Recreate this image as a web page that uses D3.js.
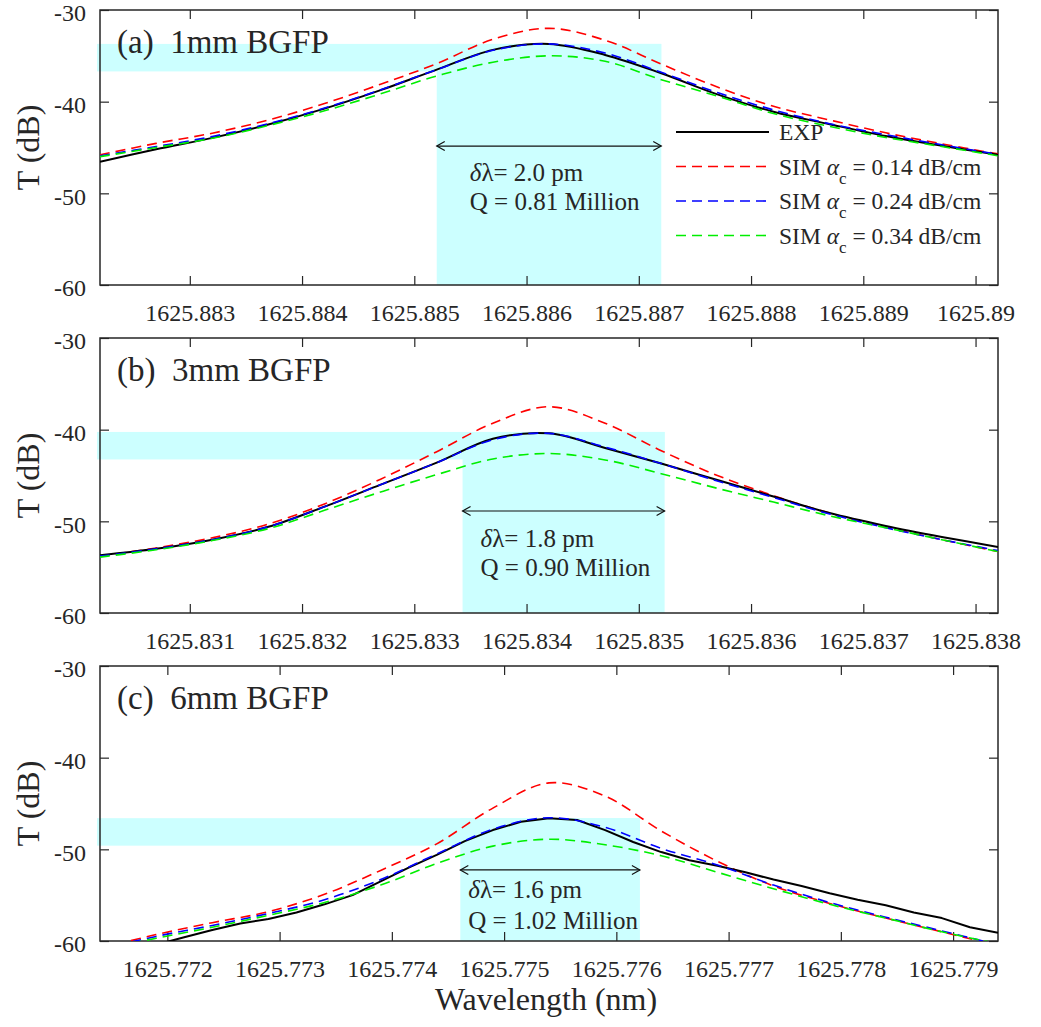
<!DOCTYPE html>
<html>
<head>
<meta charset="utf-8">
<script src="https://cdn.jsdelivr.net/npm/d3@7"></script>
<style>
  html, body { margin: 0; padding: 0; background: #ffffff; }
  svg { display: block; }
  text { font-family: "Liberation Serif", "Times New Roman", serif; fill: #262626; }
</style>
</head>
<body>
<svg id="chart" width="1041" height="1027"></svg>
<script>
// ---------- data ----------
// Panel (a): 1 mm BGFP
const lambdaA = [1625.8822, 1625.8827, 1625.8832, 1625.8837, 1625.8842, 1625.8847, 1625.8852, 1625.8857,
                 1625.8862, 1625.8867, 1625.8872, 1625.8877, 1625.8882, 1625.8887, 1625.8892, 1625.8897, 1625.8902];
const expA    = [-46.55, -45.2, -43.95, -42.5, -40.76, -38.74, -36.5, -34.35, -33.7, -34.9, -36.9, -39.2, -41.1, -42.46, -43.75, -44.8, -45.8];
const simA014 = [-45.8, -44.55, -43.44, -42.0, -40.2, -38.1, -35.85, -33.2, -32.0, -33.3, -35.9, -38.4, -40.5, -42.0, -43.4, -44.6, -45.7];
const simA024 = [-45.9, -44.9, -43.8, -42.4, -40.7, -38.7, -36.5, -34.4, -33.7, -34.7, -36.8, -39.0, -40.9, -42.4, -43.6, -44.7, -45.75];
const simA034 = [-46.0, -45.0, -44.0, -42.6, -41.0, -39.15, -37.2, -35.7, -35.0, -35.6, -37.6, -39.4, -41.3, -42.7, -43.9, -44.9, -45.9];

// Panel (b): 3 mm BGFP
const lambdaB = [1625.8302, 1625.8307, 1625.8312, 1625.8317, 1625.8322, 1625.8327, 1625.8332, 1625.8337,
                 1625.8342, 1625.8347, 1625.8352, 1625.8357, 1625.8362, 1625.8367, 1625.8372, 1625.8377, 1625.8382];
const expB    = [-53.7, -53.0, -52.0, -50.6, -48.4, -46.0, -43.6, -41.0, -40.4, -42.0, -43.7, -45.5, -47.3, -49.1, -50.5, -51.7, -52.8];
const simB014 = [-53.8, -52.9, -51.8, -50.3, -48.1, -45.4, -42.4, -39.3, -37.5, -39.3, -42.3, -45.0, -47.2, -49.1, -50.6, -52.0, -53.3];
const simB024 = [-53.8, -53.0, -52.0, -50.6, -48.4, -46.0, -43.6, -41.1, -40.4, -41.9, -43.7, -45.6, -47.4, -49.2, -50.7, -52.0, -53.2];
const simB034 = [-53.9, -53.1, -52.1, -50.8, -48.8, -46.8, -44.9, -43.2, -42.6, -43.3, -44.8, -46.4, -47.9, -49.4, -50.7, -52.0, -53.3];

// Panel (c): 6 mm BGFP (measured trace sampled more finely)
const lambdaCexp = [1625.7714, 1625.77165, 1625.7719, 1625.77215, 1625.7724, 1625.77265, 1625.7729, 1625.77315,
                    1625.7734, 1625.77365, 1625.7739, 1625.77415, 1625.7744, 1625.77465, 1625.7749, 1625.77515,
                    1625.7754, 1625.77565, 1625.7759, 1625.77615, 1625.7764, 1625.77665, 1625.7769, 1625.77715,
                    1625.7774, 1625.77765, 1625.7779, 1625.77815, 1625.7784, 1625.77865, 1625.7789, 1625.77915, 1625.7794];
const expC    = [-61.6, -61.0, -60.4, -59.6, -58.8, -58.1, -57.6, -56.9, -56.0, -55.0, -53.5, -52.0, -50.6, -49.1, -47.9, -47.0,
                 -46.6, -46.8, -47.9, -49.2, -50.3, -51.2, -51.8, -52.5, -53.3, -54.0, -54.8, -55.5, -56.1, -56.9, -57.5, -58.5, -59.1];
const lambdaC = [1625.7714, 1625.7719, 1625.7724, 1625.7729, 1625.7734, 1625.7739, 1625.7744, 1625.7749,
                 1625.7754, 1625.7759, 1625.7764, 1625.7769, 1625.7774, 1625.7779, 1625.7784, 1625.7789, 1625.7794];
const simC014 = [-60.8, -59.3, -58.0, -56.8, -54.9, -52.3, -49.4, -45.5, -42.75, -44.2, -48.0, -51.3, -54.0, -55.9, -57.5, -59.0, -60.5];
const simC024 = [-60.9, -59.5, -58.3, -57.0, -55.5, -53.3, -50.5, -47.8, -46.55, -47.6, -49.9, -51.7, -53.9, -55.8, -57.4, -58.9, -60.4];
const simC034 = [-61.0, -59.7, -58.5, -57.2, -55.8, -53.9, -51.55, -49.65, -48.9, -49.5, -50.7, -52.5, -54.3, -56.0, -57.5, -59.0, -60.3];

// Axis ticks
const yTicks  = [-30, -40, -50, -60];
const xTicksA = [1625.883, 1625.884, 1625.885, 1625.886, 1625.887, 1625.888, 1625.889, 1625.89];
const xTicksB = [1625.831, 1625.832, 1625.833, 1625.834, 1625.835, 1625.836, 1625.837, 1625.838];
const xTicksC = [1625.772, 1625.773, 1625.774, 1625.775, 1625.776, 1625.777, 1625.778, 1625.779];

// Panel labels, resonance peak (dB), FWHM start (nm), linewidth (pm), Q (million)
const panelTitles = ["(a)  1mm BGFP", "(b)  3mm BGFP", "(c)  6mm BGFP"];
const peakDb      = [-33.7, -40.25, -46.6];
const fwhmStart   = [1625.8852, 1625.83343, 1625.77461];
const linewidthPm = [2.0, 1.8, 1.6];
const qMillion    = ["0.81", "0.90", "1.02"];

// Legend
const seriesNames  = ["EXP", "0.14 dB/cm", "0.24 dB/cm", "0.34 dB/cm"];
const seriesColors = ["#000000", "#ff0000", "#0000ff", "#00ee00"];

// ---------- layout ----------
const svg = d3.select("#chart");
const W = 1041, H = 1027;
const left = 100, right = 998, plotH = 275;
const tops = [10, 338, 666];
const cyan = "#ccffff";
const axisColor = "#262626";

svg.append("rect").attr("width", W).attr("height", H).attr("fill", "#fff");

const trimZeros = d => d3.format(".3f")(d).replace(/0+$/, "");
const panels = [
  { lambda: [lambdaA, lambdaA, lambdaA, lambdaA], series: [expA, simA014, simA024, simA034], ticks: xTicksA },
  { lambda: [lambdaB, lambdaB, lambdaB, lambdaB], series: [expB, simB014, simB024, simB034], ticks: xTicksB },
  { lambda: [lambdaCexp, lambdaC, lambdaC, lambdaC], series: [expC, simC014, simC024, simC034], ticks: xTicksC }
];

// arrow / annotation placement per panel: arrow level (dB), text x offset from FWHM start (px), text offsets below arrow (px)
const annot = [
  { arrowDb: -44.84, dx: 33, t1: 35, t2: 64 },
  { arrowDb: -48.87, dx: 18, t1: 36, t2: 65 },
  { arrowDb: -52.25, dx: 8,  t1: 28, t2: 59 }
];

const defs = svg.append("defs");

panels.forEach((p, i) => {
  const top = tops[i], bottom = top + plotH;
  const lam = p.lambda[1];
  const x = d3.scaleLinear().domain([lam[0], lam[lam.length - 1]]).range([left, right]);
  const y = d3.scaleLinear().domain([-60, -30]).range([bottom, top]);
  const g = svg.append("g");

  // highlighted -3 dB band and FWHM region
  const xs = x(fwhmStart[i]);
  const xe = x(fwhmStart[i] + linewidthPm[i] / 1000);
  g.append("rect").attr("x", left - 3).attr("y", y(peakDb[i]))
    .attr("width", xe - (left - 3)).attr("height", y(peakDb[i] - 3) - y(peakDb[i])).attr("fill", cyan);
  g.append("rect").attr("x", xs).attr("y", y(peakDb[i]))
    .attr("width", xe - xs).attr("height", bottom - y(peakDb[i])).attr("fill", cyan);

  // axes (box with inward ticks on all four sides)
  const tickLen = 9;
  const axB = d3.axisBottom(x).tickValues(p.ticks).tickFormat(trimZeros).tickSizeInner(-tickLen).tickSizeOuter(0).tickPadding(19);
  const axT = d3.axisTop(x).tickValues(p.ticks).tickFormat("").tickSizeInner(-tickLen).tickSizeOuter(0);
  const axL = d3.axisLeft(y).tickValues(yTicks).tickFormat(d => String(d)).tickSizeInner(-tickLen).tickSizeOuter(0).tickPadding(14);
  const axR = d3.axisRight(y).tickValues(yTicks).tickFormat("").tickSizeInner(-tickLen).tickSizeOuter(0);

  const gb = g.append("g").attr("transform", `translate(0,${bottom})`).call(axB);
  const gt = g.append("g").attr("transform", `translate(0,${top})`).call(axT);
  const gl = g.append("g").attr("transform", `translate(${left},0)`).call(axL);
  const gr = g.append("g").attr("transform", `translate(${right},0)`).call(axR);
  [gb, gt, gl, gr].forEach(a => {
    a.select(".domain").remove();
    a.selectAll(".tick line").attr("stroke", axisColor).attr("stroke-width", 1.2);
    a.selectAll("text").attr("font-family", "Liberation Serif").attr("font-size", 24).attr("fill", axisColor);
  });
  gb.selectAll(".tick text").attr("dy", "0.71em");
  gl.selectAll(".tick text").attr("dy", "0.45em");

  // frame
  g.append("rect").attr("x", left).attr("y", top).attr("width", right - left).attr("height", plotH)
    .attr("fill", "none").attr("stroke", axisColor).attr("stroke-width", 1.5);

  // curves
  const clipId = "clip" + i;
  defs.append("clipPath").attr("id", clipId).append("rect")
    .attr("x", left).attr("y", top).attr("width", right - left).attr("height", plotH);
  const gc = g.append("g").attr("clip-path", `url(#${clipId})`);
  // draw order: red first, then measured trace, then the other simulated traces on top
  [1, 0, 2, 3].forEach(s => {
    const lamS = p.lambda[s];
    const line = d3.line().x((d, k) => x(lamS[k])).y(d => y(d))
      .curve(s === 0 && i === 2 ? d3.curveLinear : d3.curveCatmullRom.alpha(0.5));
    gc.append("path").datum(p.series[s]).attr("d", line)
      .attr("fill", "none").attr("stroke", seriesColors[s])
      .attr("stroke-width", s === 0 ? 2 : 1.6)
      .attr("stroke-linejoin", "round")
      .attr("stroke-dasharray", s === 0 ? null : "10,6");
  });

  // panel title
  g.append("text").attr("x", 117).attr("y", top + 43).attr("font-size", 33).attr("fill", "#111")
    .attr("xml:space", "preserve").text(panelTitles[i]);

  // double-headed FWHM arrow
  const ay = y(annot[i].arrowDb);
  const ag = g.append("g").attr("stroke", "#111").attr("stroke-width", 1.2).attr("fill", "none");
  ag.append("line").attr("x1", xs).attr("x2", xe).attr("y1", ay).attr("y2", ay);
  ag.append("path").attr("d", `M${xs + 8},${ay - 4.5}L${xs},${ay}L${xs + 8},${ay + 4.5}`);
  ag.append("path").attr("d", `M${xe - 8},${ay - 4.5}L${xe},${ay}L${xe - 8},${ay + 4.5}`);

  const tx = xs + annot[i].dx;
  const t1 = g.append("text").attr("x", tx).attr("y", ay + annot[i].t1).attr("font-size", 25).attr("fill", "#111");
  t1.append("tspan").attr("font-style", "italic").text("δ");
  t1.append("tspan").text(`λ= ${linewidthPm[i].toFixed(1)} pm`);
  g.append("text").attr("x", tx).attr("y", ay + annot[i].t2).attr("font-size", 25).attr("fill", "#111")
    .text(`Q = ${qMillion[i]} Million`);

  // y-axis title
  g.append("text").attr("transform", `translate(39,${top + plotH / 2}) rotate(-90)`)
    .attr("text-anchor", "middle").attr("font-size", 32).attr("fill", "#111").text("T (dB)");
});

// legend in panel (a)
const lg = svg.append("g");
const legTop = 132, legStep = 34.5;
seriesNames.forEach((name, s) => {
  const ly = legTop + s * legStep;
  lg.append("line").attr("x1", 676).attr("x2", 769).attr("y1", ly).attr("y2", ly)
    .attr("stroke", seriesColors[s]).attr("stroke-width", s === 0 ? 2 : 1.6)
    .attr("stroke-dasharray", s === 0 ? null : "10,6");
  const t = lg.append("text").attr("x", 779).attr("y", ly + 8).attr("font-size", 23.5).attr("fill", "#111");
  if (s === 0) {
    t.text(name);
  } else {
    t.append("tspan").text("SIM ");
    t.append("tspan").attr("font-style", "italic").text("α");
    t.append("tspan").attr("font-size", 17).attr("dy", 9).text("c");
    t.append("tspan").attr("dy", -9).attr("xml:space", "preserve").text(" = " + name);
  }
});

// x-axis title
svg.append("text").attr("x", 546).attr("y", 1010).attr("text-anchor", "middle")
  .attr("font-size", 32).attr("fill", "#111").text("Wavelength (nm)");
</script>
</body>
</html>
